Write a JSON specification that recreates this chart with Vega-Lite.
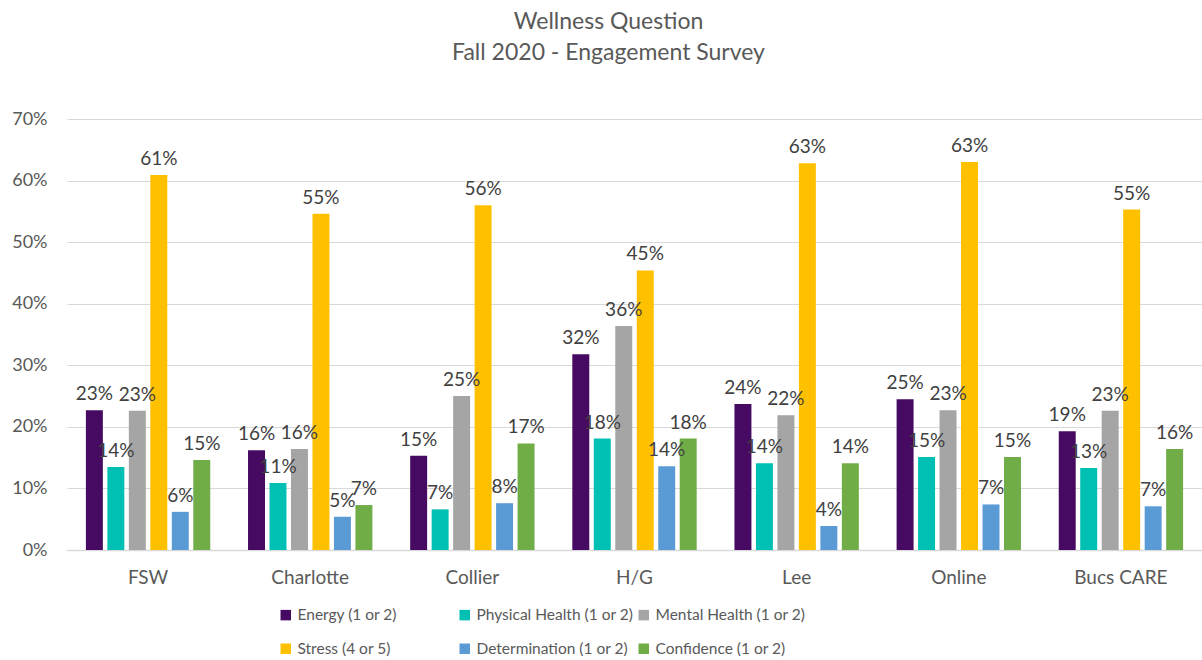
{
  "$schema": "https://vega.github.io/schema/vega-lite/v6.json",
  "autosize": "none",
  "width": 1135,
  "height": 431,
  "padding": {"left": 67, "top": 119, "right": 0, "bottom": 110},
  "background": "white",
  "config": {"view": {"stroke": null}, "font": "Lato"},
  "title": {
    "text": ["Wellness Question", "Fall 2020 - Engagement Survey"],
    "fontSize": 23,
    "fontWeight": "normal",
    "color": "#595959",
    "font": "Lato",
    "lineHeight": 31,
    "anchor": "middle",
    "dx": -26,
    "offset": 45
  },
  "data": {"values": [
    {"group": "FSW", "series": "Energy (1 or 2)", "value": 0.227},
    {"group": "FSW", "series": "Physical Health (1 or 2)", "value": 0.135},
    {"group": "FSW", "series": "Mental Health (1 or 2)", "value": 0.226},
    {"group": "FSW", "series": "Stress (4 or 5)", "value": 0.609},
    {"group": "FSW", "series": "Determination (1 or 2)", "value": 0.062},
    {"group": "FSW", "series": "Confidence (1 or 2)", "value": 0.146},
    {"group": "Charlotte", "series": "Energy (1 or 2)", "value": 0.162},
    {"group": "Charlotte", "series": "Physical Health (1 or 2)", "value": 0.109},
    {"group": "Charlotte", "series": "Mental Health (1 or 2)", "value": 0.164},
    {"group": "Charlotte", "series": "Stress (4 or 5)", "value": 0.546},
    {"group": "Charlotte", "series": "Determination (1 or 2)", "value": 0.054},
    {"group": "Charlotte", "series": "Confidence (1 or 2)", "value": 0.073},
    {"group": "Collier", "series": "Energy (1 or 2)", "value": 0.153},
    {"group": "Collier", "series": "Physical Health (1 or 2)", "value": 0.066},
    {"group": "Collier", "series": "Mental Health (1 or 2)", "value": 0.250},
    {"group": "Collier", "series": "Stress (4 or 5)", "value": 0.560},
    {"group": "Collier", "series": "Determination (1 or 2)", "value": 0.076},
    {"group": "Collier", "series": "Confidence (1 or 2)", "value": 0.173},
    {"group": "H/G", "series": "Energy (1 or 2)", "value": 0.318},
    {"group": "H/G", "series": "Physical Health (1 or 2)", "value": 0.181},
    {"group": "H/G", "series": "Mental Health (1 or 2)", "value": 0.364},
    {"group": "H/G", "series": "Stress (4 or 5)", "value": 0.454},
    {"group": "H/G", "series": "Determination (1 or 2)", "value": 0.136},
    {"group": "H/G", "series": "Confidence (1 or 2)", "value": 0.181},
    {"group": "Lee", "series": "Energy (1 or 2)", "value": 0.237},
    {"group": "Lee", "series": "Physical Health (1 or 2)", "value": 0.141},
    {"group": "Lee", "series": "Mental Health (1 or 2)", "value": 0.219},
    {"group": "Lee", "series": "Stress (4 or 5)", "value": 0.628},
    {"group": "Lee", "series": "Determination (1 or 2)", "value": 0.039},
    {"group": "Lee", "series": "Confidence (1 or 2)", "value": 0.141},
    {"group": "Online", "series": "Energy (1 or 2)", "value": 0.245},
    {"group": "Online", "series": "Physical Health (1 or 2)", "value": 0.151},
    {"group": "Online", "series": "Mental Health (1 or 2)", "value": 0.227},
    {"group": "Online", "series": "Stress (4 or 5)", "value": 0.630},
    {"group": "Online", "series": "Determination (1 or 2)", "value": 0.074},
    {"group": "Online", "series": "Confidence (1 or 2)", "value": 0.151},
    {"group": "Bucs CARE", "series": "Energy (1 or 2)", "value": 0.193},
    {"group": "Bucs CARE", "series": "Physical Health (1 or 2)", "value": 0.133},
    {"group": "Bucs CARE", "series": "Mental Health (1 or 2)", "value": 0.226},
    {"group": "Bucs CARE", "series": "Stress (4 or 5)", "value": 0.553},
    {"group": "Bucs CARE", "series": "Determination (1 or 2)", "value": 0.071},
    {"group": "Bucs CARE", "series": "Confidence (1 or 2)", "value": 0.164}
  ]},
  "encoding": {
    "x": {
      "field": "group", "type": "nominal",
      "sort": ["FSW", "Charlotte", "Collier", "H/G", "Lee", "Online", "Bucs CARE"],
      "scale": {"paddingInner": 0.233, "paddingOuter": 0.1165},
      "axis": {
        "title": null, "labelAngle": 0, "ticks": false,
        "domainColor": "#d9d9d9", "domainWidth": 1.5,
        "labelFontSize": 19, "labelColor": "#595959", "labelFont": "Lato",
        "labelPadding": 18
      }
    },
    "xOffset": {
      "field": "series", "type": "nominal",
      "sort": ["Energy (1 or 2)", "Physical Health (1 or 2)", "Mental Health (1 or 2)", "Stress (4 or 5)", "Determination (1 or 2)", "Confidence (1 or 2)"],
      "scale": {"paddingInner": 0.21, "paddingOuter": 0}
    },
    "y": {
      "field": "value", "type": "quantitative",
      "scale": {"domain": [0, 0.7]},
      "axis": {
        "title": null, "format": ".0%", "values": [0, 0.1, 0.2, 0.3, 0.4, 0.5, 0.6, 0.7],
        "ticks": false, "domain": false, "gridColor": "#d9d9d9", "gridWidth": 1.2,
        "labelFontSize": 18, "labelColor": "#595959", "labelFont": "Lato",
        "labelPadding": 20
      }
    }
  },
  "layer": [
    {
      "mark": {"type": "bar"},
      "encoding": {
        "color": {
          "field": "series", "type": "nominal",
          "scale": {
            "domain": ["Energy (1 or 2)", "Physical Health (1 or 2)", "Mental Health (1 or 2)", "Stress (4 or 5)", "Determination (1 or 2)", "Confidence (1 or 2)"],
            "range": ["#460a62", "#00c0b3", "#a5a5a5", "#ffc000", "#5b9bd5", "#70ad47"]
          },
          "legend": {
            "title": null, "orient": "none", "legendX": 211, "legendY": 488,
            "direction": "horizontal", "columns": 3, "gridAlign": "all",
            "columnPadding": 2, "rowPadding": 17,
            "symbolType": "square", "symbolSize": 110, "symbolStrokeWidth": 0,
            "labelFontSize": 15.5, "labelColor": "#595959", "labelFont": "Lato",
            "labelLimit": 300, "labelOffset": 4
          }
        }
      }
    },
    {
      "mark": {"type": "text", "baseline": "alphabetic", "dy": -10, "fontSize": 19, "color": "#404040", "font": "Lato"},
      "encoding": {
        "text": {"field": "value", "type": "quantitative", "format": ".0%"}
      }
    }
  ]
}
